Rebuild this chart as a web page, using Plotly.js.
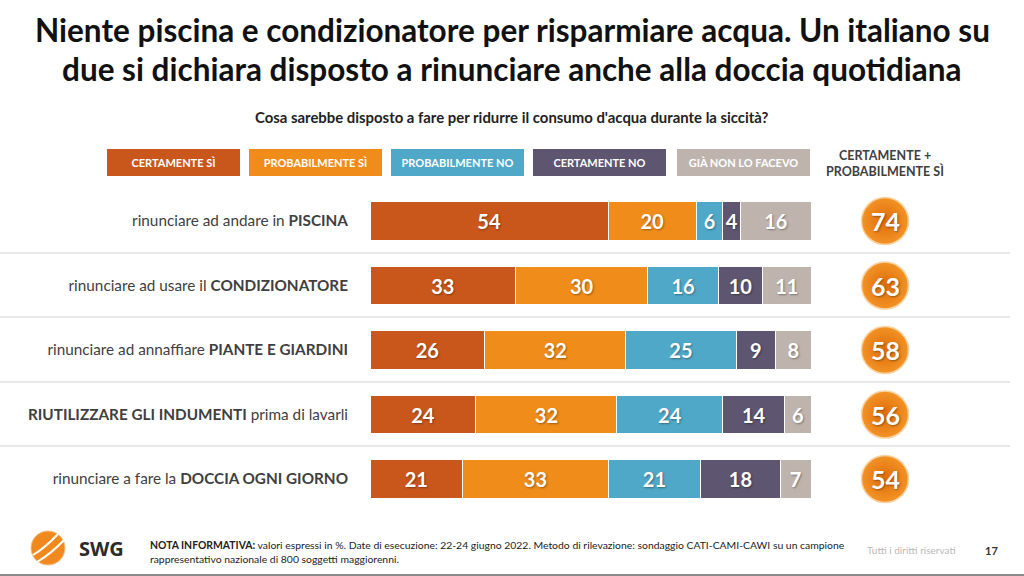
<!DOCTYPE html>
<html><head><meta charset="utf-8">
<script src="https://cdn.plot.ly/plotly-3.0.1.min.js"></script>
<style>html,body{margin:0;padding:0;background:#fff}#chart{width:1024px;height:576px}</style>
</head><body><div id="chart"></div>
<script>
// ---- data ----
const categories = [
  "rinunciare a fare la <b>DOCCIA OGNI GIORNO</b>",
  "<b>RIUTILIZZARE GLI INDUMENTI</b> prima di lavarli",
  "rinunciare ad annaffiare <b>PIANTE E GIARDINI</b>",
  "rinunciare ad usare il <b>CONDIZIONATORE</b>",
  "rinunciare ad andare in <b>PISCINA</b>"
];
const seriesNames = ["CERTAMENTE SÌ","PROBABILMENTE SÌ","PROBABILMENTE NO","CERTAMENTE NO","GIÀ NON LO FACEVO"];
const certamenteSi   = [21, 24, 26, 33, 54];
const probabilmenteSi= [33, 32, 32, 30, 20];
const probabilmenteNo= [21, 24, 25, 16, 6];
const certamenteNo   = [18, 14, 9, 10, 4];
const giaNonLoFacevo = [7, 6, 8, 11, 16];
const totalHeader = ["CERTAMENTE +","PROBABILMENTE SÌ"];
const titleLines = ["Niente piscina e condizionatore per risparmiare acqua. Un italiano su",
                    "due si dichiara disposto a rinunciare anche alla doccia quotidiana"];
const totals = certamenteSi.map((v,i)=>v+probabilmenteSi[i]);

const colors = ["#C9571C","#F08C19","#4FA8C7","#5E5571","#BEB4AD"];
const seriesValues = [certamenteSi, probabilmenteSi, probabilmenteNo, certamenteNo, giaNonLoFacevo];
const FONT = "Lato, 'Open Sans', sans-serif";
const SHADOW = '1px 1px 2px rgba(0,0,0,0.35)';

const traces = seriesValues.map((vals,k)=>({
  type:'bar', orientation:'h', name:seriesNames[k],
  y: categories, x: vals,
  marker:{color:colors[k], line:{color:'#ffffff', width:1}},
  width:0.59,
  text: vals.map(String), textposition:'inside', insidetextanchor:'middle',
  constraintext:'none',
  textfont:{color:'#ffffff', size:20, family:FONT, weight:700, shadow:SHADOW},
  hoverinfo:'skip', showlegend:false, cliponaxis:false
}));

traces.push({
  type:'scatter', mode:'markers', xaxis:'x2', yaxis:'y',
  x: categories.map(()=> 'tot'), y: categories,
  marker:{size:47, color:'#F39325', gradient:{type:'radial', color:'#DD6C0B'}, line:{color:'#FAD3A3', width:1.5}},
  hoverinfo:'skip', showlegend:false, cliponaxis:false
});

const H = 576, W = 1024;
const py = v => 1 - v/H, px = v => v/W;

const annotations = [];
titleLines.forEach((t,i)=>annotations.push({text:t, x:0.5, y:py(30 + i*39), xref:'paper', yref:'paper', showarrow:false,
  xanchor:'center', yanchor:'middle', borderpad:0, font:{family:FONT, size:31.5, color:'#111', weight:700}}));
annotations.push(
  {text:"Cosa sarebbe disposto a fare per ridurre il consumo d'acqua durante la siccità?",
   x:px(512), y:py(117), xref:'paper', yref:'paper', showarrow:false, xanchor:'center', yanchor:'middle',
   font:{family:FONT, size:14.9, color:'#222', weight:700}},
  {text:"<b>NOTA INFORMATIVA:</b> valori espressi in %. Date di esecuzione: 22-24 giugno 2022. Metodo di rilevazione: sondaggio CATI-CAMI-CAWI su un campione",
   x:px(148), y:py(545), xref:'paper', yref:'paper', showarrow:false, xanchor:'left', yanchor:'middle', align:'left',
   font:{family:FONT, size:10.4, color:'#222'}},
  {text:"rappresentativo nazionale di 800 soggetti maggiorenni.",
   x:px(148), y:py(559), xref:'paper', yref:'paper', showarrow:false, xanchor:'left', yanchor:'middle', align:'left',
   font:{family:FONT, size:10.4, color:'#222'}},
  {text:"Tutti i diritti riservati", x:px(958), y:py(550), xref:'paper', yref:'paper', showarrow:false, xanchor:'right', yanchor:'middle',
   font:{family:FONT, size:10, color:'#b8b8b8'}},
  {text:"<b>17</b>", x:px(991), y:py(550), xref:'paper', yref:'paper', showarrow:false, xanchor:'center', yanchor:'middle',
   font:{family:FONT, size:11, color:'#333'}},
  {text:"<b>SWG</b>", x:px(77), y:py(548), xref:'paper', yref:'paper', showarrow:false, xanchor:'left', yanchor:'middle',
   font:{family:"'Open Sans', sans-serif", size:20, color:'#2b2b2b'}}
);
totalHeader.forEach((t,i)=>annotations.push({text:t, x:px(885), y:py(155.5 + i*15), xref:'paper', yref:'paper', showarrow:false,
  xanchor:'center', yanchor:'middle', borderpad:0, font:{family:FONT, size:12.5, color:'#404040', weight:700}}));
totals.forEach((v,i)=>annotations.push({text:String(v), x:'tot', y:categories[i], xref:'x2', yref:'y', showarrow:false,
  xanchor:'center', yanchor:'middle', font:{family:FONT, size:25, color:'#ffffff', weight:700, shadow:SHADOW}}));
const legendCenters = [173, 315, 457, 599.5, 743];
seriesNames.forEach((n,k)=>{
  annotations.push({text:n, x:px(legendCenters[k]), y:py(162), xref:'paper', yref:'paper', showarrow:false,
    xanchor:'center', yanchor:'middle', width:133, height:27, bgcolor:colors[k], borderpad:0, borderwidth:0,
    font:{family:FONT, size:11, color:'#ffffff', weight:700}});
});

const shapes = [];
[253, 317, 382, 446].forEach(yy=>{
  shapes.push({type:'line', xref:'paper', yref:'paper', x0:0, x1:px(1010), y0:py(yy), y1:py(yy),
    line:{color:'#e2e2e2', width:1.5}});
});
shapes.push({type:'line', xref:'paper', yref:'paper', x0:0, x1:1, y0:py(575), y1:py(575), line:{color:'#8a8a8a', width:2}});
// logo
shapes.push({type:'circle', xref:'paper', yref:'paper', x0:px(31), x1:px(65), y0:py(565), y1:py(531),
  fillcolor:'#F08A1E', line:{color:'#F6C28A', width:1}});
shapes.push({type:'path', xref:'paper', yref:'paper', path:`M ${px(33)} ${py(555)} Q ${px(45)} ${py(548)} ${px(58)} ${py(534)}`,
  line:{color:'#ffffff', width:2}});
shapes.push({type:'path', xref:'paper', yref:'paper', path:`M ${px(37)} ${py(562)} Q ${px(52)} ${py(553)} ${px(64)} ${py(540)}`,
  line:{color:'#ffffff', width:2}});

const layout = {
  width:W, height:H, margin:{l:0,r:0,t:0,b:0},
  paper_bgcolor:'#ffffff', plot_bgcolor:'rgba(0,0,0,0)',
  barmode:'stack', bargap:0.4,
  font:{family:FONT},
  xaxis:{domain:[px(370), px(811)], range:[0,100], visible:false, fixedrange:true},
  xaxis2:{domain:[px(862), px(908)], type:'category', visible:false, anchor:'y'},
  yaxis:{domain:[py(511.25), py(188.75)], range:[-0.5, 4.5], type:'category',
    showgrid:false, zeroline:false, showline:false, ticks:'',
    ticklabelstandoff:21, tickfont:{family:FONT, size:15.3, color:'#404040'}},
  annotations, shapes
};
Plotly.newPlot('chart', traces, layout, {staticPlot:true, displayModeBar:false});
</script></body></html>
